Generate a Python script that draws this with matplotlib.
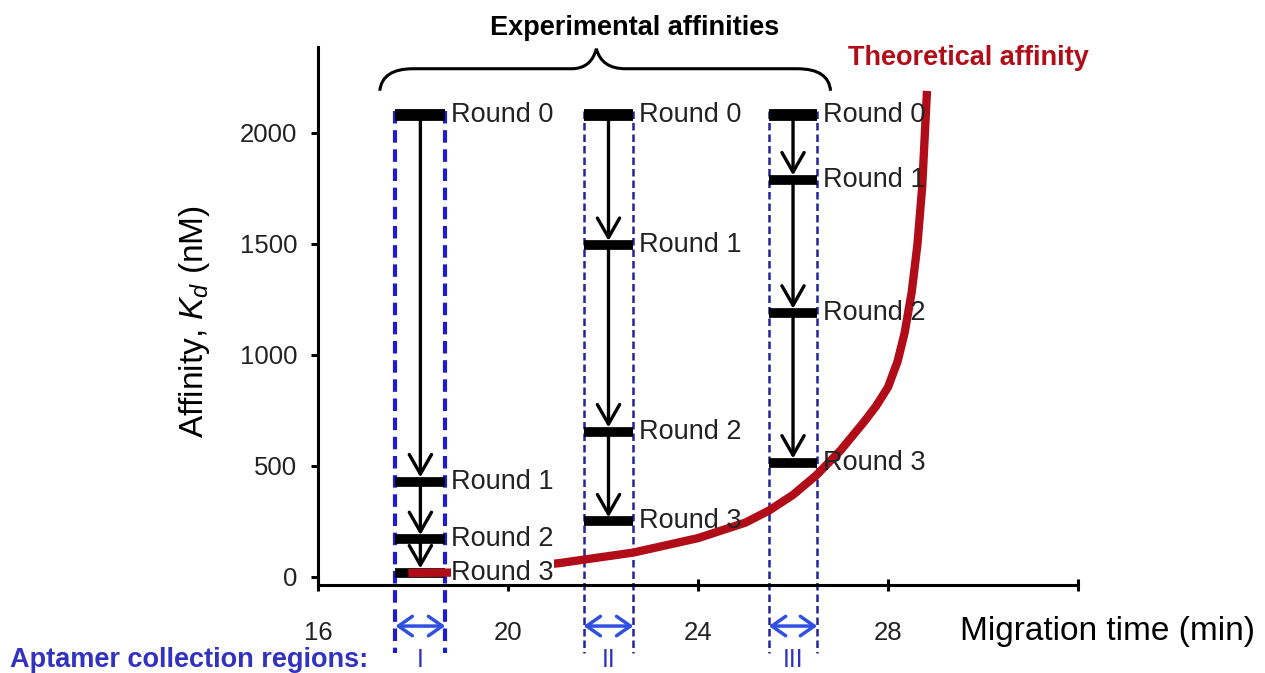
import matplotlib
matplotlib.use('Agg')
import matplotlib.pyplot as plt
from matplotlib.path import Path
from matplotlib.patches import PathPatch

plt.rcParams['font.family'] = ['Liberation Sans', 'DejaVu Sans']
plt.rcParams['mathtext.fontset'] = 'custom'
plt.rcParams['mathtext.rm'] = 'Liberation Sans'
plt.rcParams['mathtext.it'] = 'Liberation Sans:italic'

# collection windows (min) and measured Kd per selection round (nM)
region_names = ['I', 'II', 'III']
region_start = [17.63, 21.59, 25.49]
region_end = [18.68, 22.64, 26.51]
round_labels = ['Round 0', 'Round 1', 'Round 2', 'Round 3']
kd_region_I = [2080, 430, 170, 20]
kd_region_II = [2080, 1495, 655, 250]
kd_region_III = [2080, 1790, 1190, 515]

# theoretical affinity vs migration time
theory_time = [17.9, 18.87, 21.07, 21.59, 22.64, 24.0, 25.0, 25.5, 26.0, 26.5,
               27.0, 27.5, 27.75, 28.0, 28.2, 28.35, 28.5, 28.62, 28.72, 28.82]
theory_kd = [18, 20, 62, 78, 110, 175, 245, 300, 370, 460,
             570, 700, 770, 855, 970, 1100, 1285, 1500, 1760, 2189]

xticks = [16, 20, 24, 28, 32]
xtick_labels = ['16', '20', '24', '28', '']
yticks = [0, 500, 1000, 1500, 2000]

blue_text = '#3232c0'
dark_red = '#b00d18'

fig = plt.figure(figsize=(12.65, 6.73), dpi=100)
ax = fig.add_axes([0.2514, 0.1308, 0.6008, 0.7994])
ax.set_xlim(16, 32)
ax.set_ylim(-36, 2387)

for s in ['top', 'right']:
    ax.spines[s].set_visible(False)
for s in ['left', 'bottom']:
    ax.spines[s].set_linewidth(2.2)
    ax.spines[s].set_zorder(6)

ax.set_xticks(xticks)
ax.set_xticklabels(xtick_labels)
ax.set_yticks(yticks)
ax.tick_params(axis='x', direction='inout', length=8, width=2.2, pad=22,
               labelsize=18.5, labelcolor='#222222')
ax.tick_params(axis='y', direction='out', length=5, width=2.2, pad=10,
               labelsize=18.5, labelcolor='#222222')

ax.set_ylabel('Affinity, $K_d$ (nM)', fontsize=24)
ax.yaxis.set_label_coords(-0.14, 0.49)
ax.set_xlabel('Migration time (min)', fontsize=24, ha='left', va='center')
ax.xaxis.set_label_coords(0.845, -0.087)

# theoretical curve
ax.plot(theory_time, theory_kd, color=dark_red, lw=6, solid_capstyle='butt',
        zorder=4)

all_kd = [kd_region_I, kd_region_II, kd_region_III]
for i, kds in enumerate(all_kd):
    lo, hi = region_start[i], region_end[i]
    mid = (lo + hi) / 2
    if i == 0:
        dash_lw, dash_col = 3.0, '#1c1cd0'
    else:
        dash_lw, dash_col = 1.8, '#23239a'
    for xv in [lo, hi]:
        ax.plot([xv, xv], [2100, -342], color=dash_col, lw=dash_lw,
                ls=(0, (3, 1.6)), clip_on=False, zorder=2)

    # round bars and labels
    for j, kd in enumerate(kds):
        ax.plot([lo, hi], [kd, kd], color='black',
                lw=8.5 if j == 0 else 7, solid_capstyle='butt', zorder=3)
        box = None
        if i == 0 and j == 3:
            box = dict(facecolor='white', edgecolor='none', pad=0.2)
        ax.annotate(round_labels[j], xy=(hi, kd), xytext=(4, 0),
                    textcoords='offset points', fontsize=19.5, color='#222222',
                    ha='left', va='center', bbox=box, zorder=5)

    # arrows between consecutive rounds
    for j in range(len(kds) - 1):
        ax.annotate('', xy=(mid, kds[j + 1]), xytext=(mid, kds[j]),
                    arrowprops=dict(arrowstyle='->,head_length=0.7,head_width=0.4',
                                    color='black', lw=2.4, mutation_scale=20,
                                    shrinkA=0, shrinkB=3),
                    zorder=3)

    # collection window markers under the axis
    ax.annotate('', xy=(hi, -221), xytext=(lo, -221),
                arrowprops=dict(arrowstyle='<->,head_length=0.5,head_width=0.35',
                                color='#3050e0', lw=2.5, mutation_scale=20,
                                shrinkA=0, shrinkB=0),
                annotation_clip=False)
    ax.text(mid, -374, region_names[i], fontsize=18, color=blue_text,
            ha='center', va='center', clip_on=False)

fig.text(10 / 1265, 1 - 660 / 673, 'Aptamer collection regions:', fontsize=19.5,
         fontweight='bold', color=blue_text, ha='left', va='center')

# brace over the experimental data
verts = [(17.30, 2190), (17.35, 2289), (18.0, 2289),
         (21.34, 2289),
         (21.75, 2289), (21.86, 2379),
         (21.97, 2289), (22.47, 2289),
         (26.09, 2289),
         (26.75, 2289), (26.79, 2190)]
codes = [Path.MOVETO, Path.CURVE3, Path.CURVE3,
         Path.LINETO,
         Path.CURVE3, Path.CURVE3,
         Path.CURVE3, Path.CURVE3,
         Path.LINETO,
         Path.CURVE3, Path.CURVE3]
ax.add_patch(PathPatch(Path(verts, codes), facecolor='none', edgecolor='black',
                       lw=2.2, clip_on=False))

fig.text(635 / 1265, 1 - 28 / 673, 'Experimental affinities', fontsize=19.5,
         fontweight='bold', ha='center', va='center')
fig.text(848 / 1265, 1 - 58 / 673, 'Theoretical affinity', fontsize=19.5,
         fontweight='bold', color=dark_red, ha='left', va='center')

fig.savefig('out.png', dpi=100)
